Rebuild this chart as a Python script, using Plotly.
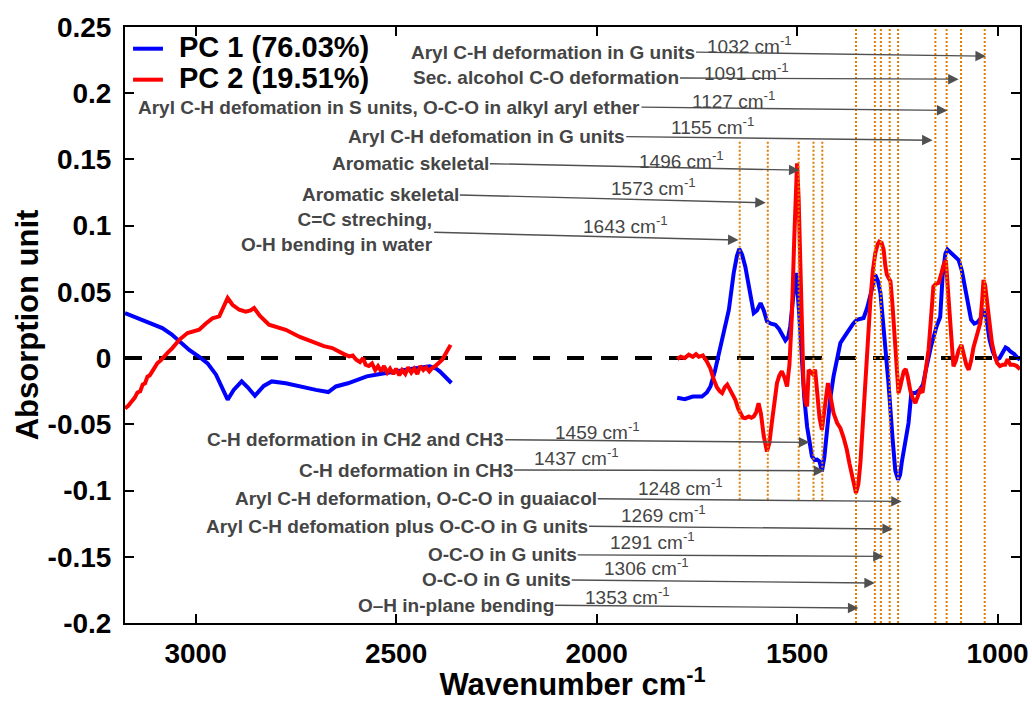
import plotly.graph_objects as go

# ---------------- data ----------------
# high-wavenumber region (cm-1)
pc1_hi_wn = [3176, 3140, 3110, 3083, 3060, 3041, 3015, 2991, 2970, 2949, 2935, 2920, 2905, 2885, 2870,
             2852, 2830, 2810, 2775, 2742, 2700, 2669, 2650, 2620, 2573, 2540, 2493, 2460, 2416, 2400,
             2391, 2378, 2362]
pc1_hi = [0.034, 0.0295, 0.026, 0.0227, 0.018, 0.0126, 0.006, 0.001, -0.004, -0.0125, -0.022, -0.0314,
          -0.024, -0.0176, -0.022, -0.0284, -0.021, -0.0176, -0.019, -0.0214, -0.024, -0.0256, -0.0214,
          -0.019, -0.0138, -0.012, -0.0095, -0.008, -0.0062, -0.008, -0.010, -0.014, -0.0188]

pc2_hi_wn = [3176, 3168, 3160, 3152, 3145, 3138, 3132, 3126, 3120, 3114, 3108, 3101, 3095, 3088, 3080,
             3070, 3058, 3040, 3020, 3005, 2991, 2975, 2958, 2941, 2930, 2920, 2908, 2891, 2875, 2863,
             2854, 2840, 2817, 2795, 2775, 2740, 2700, 2680, 2659, 2640, 2630, 2617, 2608, 2600, 2590,
             2582, 2576, 2568, 2560, 2552, 2545, 2537, 2530, 2522, 2515, 2507, 2500, 2492, 2485, 2477,
             2470, 2462, 2455, 2447, 2440, 2432, 2425, 2417, 2410, 2402, 2395, 2385, 2375, 2364]
pc2_hi = [-0.038, -0.036, -0.033, -0.030, -0.026, -0.025, -0.020, -0.019, -0.014, -0.013, -0.010, -0.006,
          -0.0037, -0.002, 0.001, 0.004, 0.0076, 0.014, 0.019, 0.020, 0.0214, 0.026, 0.030, 0.0315, 0.038,
          0.0454, 0.0403, 0.0365, 0.035, 0.036, 0.0378, 0.032, 0.0252, 0.023, 0.0214, 0.016, 0.0114,
          0.009, 0.0076, 0.004, 0.003, 0.0013, 0.002, -0.001, -0.003, 0.000, -0.005, -0.006, -0.004,
          -0.009, -0.006, -0.010, -0.006, -0.011, -0.008, -0.012, -0.008, -0.013, -0.009, -0.012, -0.007,
          -0.011, -0.008, -0.012, -0.006, -0.009, -0.007, -0.010, -0.0075, -0.006, -0.004, -0.0012, 0.004,
          0.010]

# low-wavenumber (fingerprint) region (cm-1)
pc1_lo_wn = [1799, 1780, 1760, 1737, 1725, 1716, 1705, 1695, 1683, 1670, 1658, 1650, 1644, 1637, 1629,
             1620, 1608, 1600, 1591, 1583, 1575, 1565, 1554, 1545, 1538, 1529, 1522, 1517, 1510, 1502,
             1495, 1488, 1482, 1475, 1468, 1463, 1456, 1450, 1444, 1438, 1432, 1425, 1417, 1409, 1400,
             1392, 1380, 1371, 1360, 1351, 1342, 1334, 1325, 1317, 1310, 1305, 1298, 1292, 1283, 1272,
             1262, 1255, 1248, 1243, 1239, 1230, 1222, 1215, 1205, 1194, 1186, 1177, 1165, 1152, 1143,
             1137, 1130, 1125, 1115, 1105, 1097, 1089, 1081, 1074, 1066, 1058, 1050, 1042, 1035, 1028,
             1020, 1012, 1003, 995, 988, 980, 974, 968, 958, 950, 944]
pc1_lo = [-0.030, -0.031, -0.029, -0.029, -0.026, -0.0214, -0.010, 0.0039, 0.020, 0.0365, 0.0643, 0.077,
          0.0824, 0.078, 0.069, 0.052, 0.034, 0.036, 0.0416, 0.036, 0.0277, 0.026, 0.0252, 0.022, 0.018,
          0.0134, 0.016, 0.024, 0.045, 0.0643, 0.035, -0.0037, -0.030, -0.0516, -0.066, -0.074, -0.077,
          -0.0767, -0.078, -0.0855, -0.075, -0.0516, -0.030, -0.0138, 0.000, 0.0114, 0.017, 0.0214, 0.026,
          0.029, 0.030, 0.0303, 0.038, 0.0466, 0.056, 0.063, 0.058, 0.049, 0.020, -0.0188, -0.060, -0.085,
          -0.0918, -0.088, -0.079, -0.063, -0.049, -0.0264, -0.0264, -0.024, -0.020, -0.0063, 0.010,
          0.024, 0.031, 0.062, 0.079, 0.082, 0.079, 0.077, 0.074, 0.066, 0.052, 0.040, 0.029, 0.026,
          0.027, 0.030, 0.037, 0.030, 0.014, 0.005, -0.001, 0.000, 0.004, 0.008, 0.007, 0.005, 0.003,
          0.000, -0.001]

pc2_lo_wn = [1799, 1790, 1780, 1770, 1760, 1752, 1745, 1735, 1725, 1716, 1708, 1700, 1693, 1687, 1680,
             1674, 1667, 1660, 1654, 1647, 1641, 1635, 1629, 1620, 1614, 1608, 1602, 1596, 1590, 1583,
             1575, 1569, 1563, 1556, 1550, 1544, 1538, 1531, 1525, 1519, 1513, 1507, 1500, 1496, 1492,
             1488, 1484, 1479, 1475, 1471, 1467, 1461, 1455, 1450, 1444, 1438, 1432, 1427, 1423, 1416,
             1409, 1400, 1392, 1384, 1376, 1369, 1363, 1357, 1353, 1347, 1342, 1336, 1330, 1323, 1317,
             1311, 1305, 1299, 1295, 1289, 1284, 1280, 1276, 1271, 1267, 1262, 1258, 1255, 1250, 1247,
             1243, 1239, 1234, 1229, 1224, 1218, 1212, 1205, 1199, 1193, 1187, 1180, 1172, 1166, 1160,
             1154, 1147, 1140, 1135, 1129, 1126, 1122, 1116, 1110, 1104, 1097, 1090, 1084, 1078, 1072,
             1066, 1060, 1055, 1049, 1043, 1038, 1035, 1031, 1027, 1020, 1014, 1007, 1001, 994, 987, 981,
             975, 968, 960, 952, 944]
pc2_lo = [-0.0007, 0.001, 0.000, 0.0026, 0.001, 0.003, 0.001, 0.002, -0.0025, -0.008, -0.016, -0.022,
          -0.025, -0.0264, -0.022, -0.020, -0.024, -0.028, -0.0314, -0.038, -0.0415, -0.045, -0.0453,
          -0.044, -0.045, -0.044, -0.041, -0.034, -0.042, -0.059, -0.0705, -0.064, -0.049, -0.032,
          -0.0188, -0.013, -0.010, -0.015, -0.0214, -0.005, 0.0315, 0.090, 0.147, 0.120, 0.0693, 0.020,
          -0.0188, -0.033, -0.0365, -0.0088, -0.010, -0.012, -0.0088, -0.025, -0.045, -0.054, -0.040,
          -0.025, -0.0188, -0.030, -0.0415, -0.049, -0.0528, -0.060, -0.069, -0.080, -0.0893, -0.099,
          -0.1019, -0.095, -0.079, -0.050, -0.0188, 0.014, 0.044, 0.066, 0.079, 0.086, 0.088, 0.087,
          0.0818, 0.070, 0.063, 0.060, 0.058, 0.040, 0.022, 0.0114, -0.012, -0.0264, -0.022, -0.0163,
          -0.010, -0.0082, -0.014, -0.024, -0.030, -0.034, -0.028, -0.024, -0.026, -0.012, 0.0063, 0.030,
          0.054, 0.056, 0.0567, 0.064, 0.070, 0.074, 0.062, 0.044, 0.015, -0.0063, -0.002, 0.006, 0.010,
          0.003, -0.005, -0.0088, -0.002, 0.008, 0.0139, 0.020, 0.0265, 0.045, 0.059, 0.055, 0.044, 0.024,
          0.0114, 0.002, -0.0037, -0.006, -0.005, -0.005, -0.001, -0.005, -0.005, -0.006, -0.0085]

series_names = ["PC 1 (76.03%)", "PC 2 (19.51%)"]
series_colors = ["#0000FF", "#FF0000"]

# band assignments
band_wn = [1032, 1091, 1127, 1155, 1496, 1573, 1643,
           1459, 1437, 1248, 1269, 1291, 1306, 1353]
band_labels = ["Aryl C-H deformation in G units",
               "Sec. alcohol C-O deformation",
               "Aryl C-H defomation in S units, O-C-O in alkyl aryl ether",
               "Aryl C-H defomation in G units",
               "Aromatic skeletal",
               "Aromatic skeletal",
               "C=C streching,<br>O-H bending in water",
               "C-H deformation in CH2 and CH3",
               "C-H deformation in CH3",
               "Aryl C-H deformation, O-C-O in guaiacol",
               "Aryl C-H defomation plus O-C-O in G units",
               "O-C-O in G units",
               "O-C-O in G units",
               "O\u2013H in-plane bending"]

yticks = [0.25, 0.2, 0.15, 0.1, 0.05, 0, -0.05, -0.1, -0.15, -0.2]
yticktext = ["0.25", "0.2", "0.15", "0.1", "0.05", "0", "-0.05", "-0.1", "-0.15", "-0.2"]
xticks = [3000, 2500, 2000, 1500, 1000]

# ---------------- annotation placement (data units) ----------------
# arrow tail (= right end of the label text), arrow tip, wavenumber label position
tail_x = [1752, 1792, 1888, 1926, 2266, 2341, 2405, 2228, 2206, 1997, 2019, 2047, 2062, 2104]
tail_y = [0.2310, 0.2115, 0.1895, 0.1672, 0.1468, 0.1232, 0.0950, -0.0616, -0.0845, -0.1062, -0.1270,
          -0.1486, -0.1675, -0.1866]
tip_x = [1029, 1097, 1125, 1162, 1494, 1578, 1646, 1469, 1432, 1239, 1261, 1284, 1306, 1347]
tip_y = [0.228, 0.2106, 0.187, 0.1645, 0.1419, 0.1173, 0.0891, -0.0636, -0.085, -0.1082, -0.129,
         -0.1497, -0.1698, -0.1887]
num_x = [1618, 1625, 1658, 1710, 1787, 1857, 1927, 1997, 2049, 1790, 1834, 1860, 1875, 1923]
num_y = [0.2366, 0.2159, 0.1951, 0.1751, 0.1498, 0.129, 0.1007, -0.0548, -0.0748, -0.0971, -0.1175,
         -0.1379, -0.1575, -0.1798]

fig = go.Figure()

for wn_hi, v_hi, wn_lo, v_lo, name, col in [
        (pc1_hi_wn, pc1_hi, pc1_lo_wn, pc1_lo, series_names[0], series_colors[0]),
        (pc2_hi_wn, pc2_hi, pc2_lo_wn, pc2_lo, series_names[1], series_colors[1])]:
    fig.add_trace(go.Scatter(x=wn_hi + [None] + wn_lo, y=v_hi + [None] + v_lo, mode="lines",
                             name=name, line=dict(color=col, width=4), connectgaps=False,
                             showlegend=False))

FONT = "Liberation Sans, Arial, sans-serif"
TXT = "#454545"

shapes = []
# zero dashed line
shapes.append(dict(type="line", xref="paper", yref="y", x0=0, x1=1, y0=0, y1=0,
                   line=dict(color="black", width=4, dash="17px,17px"), layer="below"))
# dotted band lines
for wn in band_wn:
    if wn in (1643, 1573, 1496, 1459, 1437):
        y0, y1 = -0.107, 0.164
    else:
        y0, y1 = -0.2, 0.25
    shapes.append(dict(type="line", xref="x", yref="y", x0=wn, x1=wn, y0=y0, y1=y1,
                       line=dict(color="#E07C00", width=2, dash="2px,2px"), layer="above"))

annotations = []
for i, wn in enumerate(band_wn):
    # label text anchored at the arrow tail, arrow pointing to the band
    annotations.append(dict(x=tip_x[i], y=tip_y[i], xref="x", yref="y", ax=tail_x[i], ay=tail_y[i],
                            axref="x", ayref="y", text=band_labels[i], showarrow=True,
                            xanchor="right", yanchor="middle", align="right",
                            arrowhead=2, arrowsize=1.5, arrowwidth=1.4, arrowcolor="#505050",
                            standoff=0, startstandoff=0, borderpad=0,
                            font=dict(family=FONT, size=19, color=TXT, weight="bold")))
    annotations.append(dict(x=num_x[i], y=num_y[i], xref="x", yref="y",
                            text=f"{wn} cm<sup>-1</sup>", showarrow=False, xanchor="center",
                            yanchor="middle", font=dict(family=FONT, size=19, color=TXT)))

# legend drawn manually
leg_y = [0.9636, 0.9116]
for i in range(2):
    shapes.append(dict(type="line", xref="paper", yref="paper", x0=0.009, x1=0.0424,
                       y0=leg_y[i], y1=leg_y[i], line=dict(color=series_colors[i], width=4)))
    annotations.append(dict(x=0.0577, y=leg_y[i] + 0.003, xref="paper", yref="paper",
                            text=series_names[i], showarrow=False, xanchor="left",
                            yanchor="middle",
                            font=dict(family=FONT, size=29, color="black", weight="bold")))

fig.update_layout(
    width=1032, height=702,
    margin=dict(l=125, r=12, t=27, b=79),
    paper_bgcolor="white", plot_bgcolor="white",
    shapes=shapes, annotations=annotations,
    showlegend=False,
    xaxis=dict(range=[3176, 944], tickvals=xticks, ticks="inside", ticklen=9, tickwidth=2,
               tickcolor="black", showline=True, linewidth=2, linecolor="black", mirror="ticks",
               showgrid=False, zeroline=False, ticklabelstandoff=4, automargin=False,
               tickfont=dict(family=FONT, size=28, color="black", weight="bold"),
               title=dict(text="Wavenumber cm<sup>-1</sup>", standoff=8,
                          font=dict(family=FONT, size=31, color="black", weight="bold"))),
    yaxis=dict(range=[-0.2, 0.25], tickvals=yticks, ticktext=yticktext, ticks="inside", ticklen=9,
               tickwidth=2, tickcolor="black", showline=True, linewidth=2, linecolor="black",
               mirror="ticks", showgrid=False, zeroline=False, ticklabelstandoff=6, automargin=False,
               tickfont=dict(family=FONT, size=28, color="black", weight="bold"),
               title=dict(text="Absorption unit", standoff=0,
                          font=dict(family=FONT, size=31, color="black", weight="bold"))),
)

fig.write_html("out.html")
